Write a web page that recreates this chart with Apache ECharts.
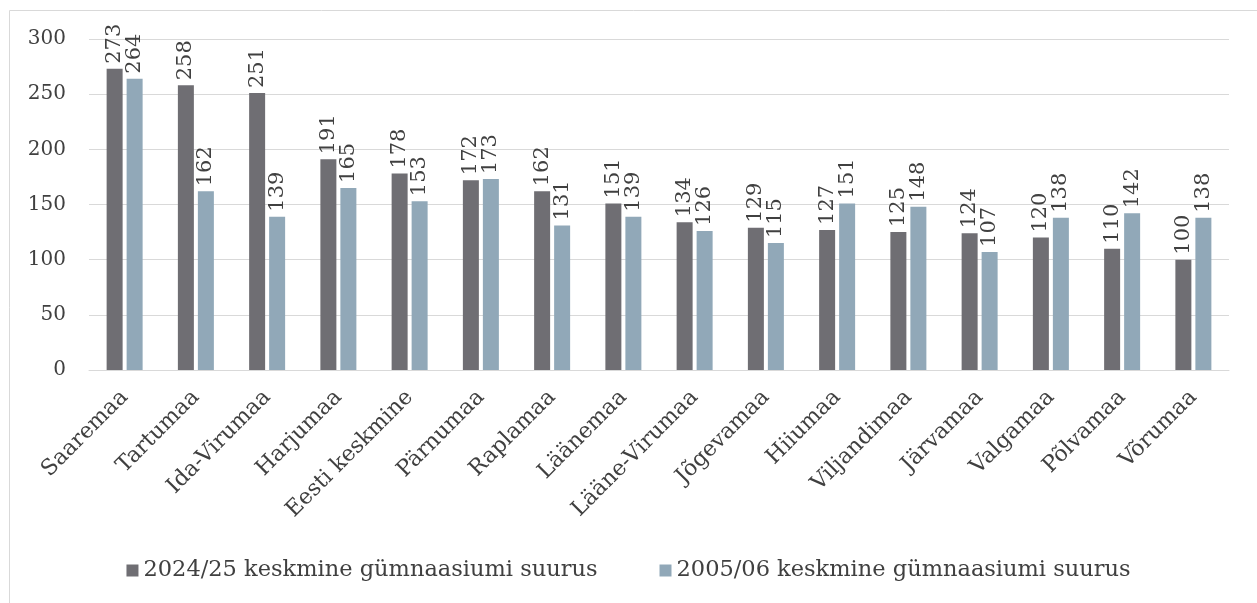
<!DOCTYPE html>
<html><head><meta charset="utf-8">
<script src="https://cdn.jsdelivr.net/npm/echarts@6/dist/echarts.min.js"></script>
<style>html,body{margin:0;padding:0;background:#fff}#c{width:1257px;height:603px}</style>
</head><body><div id="c"></div>
<script>
const categories = ["Saaremaa","Tartumaa","Ida-Virumaa","Harjumaa","Eesti keskmine","Pärnumaa","Raplamaa","Läänemaa","Lääne-Virumaa","Jõgevamaa","Hiiumaa","Viljandimaa","Järvamaa","Valgamaa","Põlvamaa","Võrumaa"];
const values2024 = [273,258,251,191,178,172,162,151,134,129,127,125,124,120,110,100];
const values2005 = [264,162,139,165,153,173,131,139,126,115,151,148,107,138,142,138];
const seriesNames = ["2024/25 keskmine gümnaasiumi suurus","2005/06 keskmine gümnaasiumi suurus"];
const FONT = "DejaVu Serif";
const chart = echarts.init(document.getElementById('c'));
const lbl = {show:true, position:'top', rotate:90, align:'left', verticalAlign:'middle', distance:5, color:'#404040', fontFamily:FONT, fontSize:21};
chart.setOption({
  animation:false,
  textStyle:{fontFamily:FONT},
  graphic:[{type:'rect', shape:{x:9.5,y:10.5,width:1300,height:700}, style:{fill:'none', stroke:'#d9d9d9', lineWidth:1}}],
  grid:{left:89, right:28, top:39, bottom:233, containLabel:false},
  legend:{bottom:16, left:'center', itemWidth:12, itemHeight:12, itemGap:62, icon:'rect',
    textStyle:{fontFamily:FONT, fontSize:22.5, color:'#404040'}},
  xAxis:{type:'category', data:categories,
    axisLine:{lineStyle:{color:'#d9d9d9'}}, axisTick:{show:false},
    axisLabel:{rotate:45, interval:0, color:'#404040', fontFamily:FONT, fontSize:22, margin:24}},
  yAxis:{type:'value', min:0, max:300, interval:50,
    axisLine:{show:false}, axisTick:{show:false},
    splitLine:{lineStyle:{color:'#d9d9d9'}},
    axisLabel:{color:'#404040', fontFamily:FONT, fontSize:20, margin:23}},
  series:[
    {name:seriesNames[0], type:'bar', data:values2024, barWidth:16, barGap:'25%', itemStyle:{color:'#6f6e73'}, label:lbl},
    {name:seriesNames[1], type:'bar', data:values2005, barWidth:16, barGap:'25%', itemStyle:{color:'#91a8b8'}, label:lbl}
  ]
});
</script></body></html>
